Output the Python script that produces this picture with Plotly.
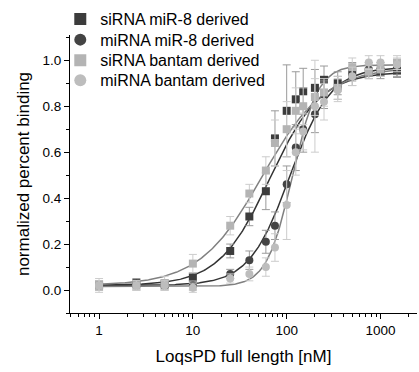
import numpy as np
import plotly.graph_objects as go

# ---- data ----
conc = [1, 2.5, 5, 10, 25, 40, 60, 75, 100, 125, 150, 200, 250, 350, 500, 750, 1000, 1500]

sirna_mir8 = [0.02, 0.03, 0.025, 0.055, 0.17, 0.32, 0.43, 0.66, 0.78, 0.83, 0.865, 0.88, 0.915, 0.90, 0.95, 0.95, 0.95, 0.955]
sirna_mir8_err = [0.02, 0.02, 0.02, 0.02, 0.03, 0.04, 0.08, 0.12, 0.2, 0.12, 0.1, 0.08, 0.06, 0.05, 0.04, 0.03, 0.03, 0.03]

mirna_mir8 = [0.02, 0.02, 0.02, 0.02, 0.07, 0.13, 0.21, 0.28, 0.46, 0.62, 0.70, 0.765, 0.85, 0.88, 0.93, 0.96, 0.96, 0.96]
mirna_mir8_err = [0.02, 0.02, 0.02, 0.02, 0.02, 0.04, 0.05, 0.06, 0.08, 0.1, 0.1, 0.08, 0.06, 0.05, 0.04, 0.03, 0.03, 0.03]

sirna_bantam = [0.02, 0.02, 0.03, 0.115, 0.28, 0.42, 0.52, 0.64, 0.70, 0.78, 0.80, 0.84, 0.86, 0.88, 0.97, 0.95, 0.96, 0.99]
sirna_bantam_err = [0.03, 0.02, 0.03, 0.04, 0.04, 0.04, 0.06, 0.1, 0.12, 0.1, 0.08, 0.08, 0.06, 0.05, 0.04, 0.03, 0.03, 0.03]

mirna_bantam = [0.02, 0.02, 0.02, 0.01, 0.05, 0.07, 0.10, 0.185, 0.37, 0.60, 0.69, 0.80, 0.82, 0.87, 0.93, 0.99, 0.99, 0.98]
mirna_bantam_err = [0.02, 0.02, 0.02, 0.02, 0.02, 0.03, 0.04, 0.06, 0.15, 0.1, 0.08, 0.2, 0.08, 0.05, 0.04, 0.03, 0.03, 0.03]

series_names = ["siRNA miR-8 derived", "miRNA miR-8 derived", "siRNA bantam derived", "miRNA bantam derived"]

# Hill fit parameters (bottom, top, EC50, slope)
fit_bottom = [0.02, 0.02, 0.02, 0.015]
fit_top = [0.95, 0.97, 0.97, 0.98]
fit_ec50 = [66, 108, 55, 115]
fit_hill = [1.6, 2.0, 1.3, 3.2]

# ---- styles ----
marker_colors = ["#3c3c3c", "#444444", "#b4b4b4", "#bdbdbd"]
marker_symbols = ["square", "circle", "square", "circle"]
err_colors = ["#9a9a9a", "#9a9a9a", "#cccccc", "#cccccc"]
line_colors = ["#333333", "#333333", "#808080", "#808080"]
legend_ids = ["legend", "legend2", "legend3", "legend4"]
legend_y = [1.057, 0.983, 0.909, 0.837]

values = [sirna_mir8, mirna_mir8, sirna_bantam, mirna_bantam]
errors = [sirna_mir8_err, mirna_mir8_err, sirna_bantam_err, mirna_bantam_err]

fig = go.Figure()
xfit = np.logspace(0, np.log10(1500), 300)
for i in range(4):
    yfit = fit_bottom[i] + (fit_top[i] - fit_bottom[i]) / (1 + (fit_ec50[i] / xfit) ** fit_hill[i])
    fig.add_trace(go.Scatter(x=xfit, y=yfit, mode="lines", showlegend=False,
                             line=dict(color=line_colors[i], width=1.5), hoverinfo="skip"))

for i in range(4):
    fig.add_trace(go.Scatter(
        x=conc, y=values[i], mode="markers", name=series_names[i], legend=legend_ids[i],
        marker=dict(symbol=marker_symbols[i], size=8, color=marker_colors[i], line=dict(width=0)),
        error_y=dict(type="data", array=errors[i], color=err_colors[i], thickness=1, width=4),
    ))

font_family = "Liberation Sans, Arial, sans-serif"
layout_legends = {}
for i in range(4):
    layout_legends[legend_ids[i]] = dict(
        x=-0.028, y=legend_y[i], xanchor="left", yanchor="middle", bgcolor="rgba(0,0,0,0)",
        font=dict(size=16, family=font_family, color="#000000"), itemsizing="constant")

fig.update_layout(
    width=419, height=372,
    margin=dict(l=70, r=2, t=25, b=59),
    paper_bgcolor="white", plot_bgcolor="white",
    font=dict(family=font_family, color="#000000"),
    showlegend=True,
    **layout_legends,
)
fig.update_xaxes(
    type="log", range=[np.log10(0.49), np.log10(2450)], automargin=False,
    showline=True, linecolor="#000000", linewidth=1.2, mirror=False,
    ticks="outside", ticklen=5, tickcolor="#000000", tickwidth=1,
    tickvals=[1, 10, 100, 1000], ticktext=["1", "10", "100", "1000"],
    tickfont=dict(size=13.5), showgrid=False, zeroline=False,
    minor=dict(ticks="outside", ticklen=3, tickcolor="#000000", showgrid=False,
               tickvals=[0.5, 0.6, 0.7, 0.8, 0.9, 2, 3, 4, 5, 6, 7, 8, 9, 20, 30, 40, 50, 60, 70, 80, 90,
                         200, 300, 400, 500, 600, 700, 800, 900, 2000]),
    title=dict(text="LoqsPD full length [nM]", font=dict(size=17), standoff=12),
)
fig.update_yaxes(
    range=[-0.1, 1.11], automargin=False,
    showline=True, linecolor="#000000", linewidth=1.2,
    ticks="outside", ticklen=5, tickcolor="#000000", tickwidth=1,
    tickvals=[0, 0.2, 0.4, 0.6, 0.8, 1.0], tickformat=".1f",
    tickfont=dict(size=13.5), showgrid=False, zeroline=False,
    minor=dict(ticks="outside", ticklen=3, tickcolor="#000000", showgrid=False,
               tickvals=[-0.1, 0.1, 0.3, 0.5, 0.7, 0.9, 1.1]),
    title=dict(text="normalized percent binding", font=dict(size=17), standoff=8),
)

fig.write_html("out.html", config={"displayModeBar": False},
               post_script="document.body.style.margin='0px';")
